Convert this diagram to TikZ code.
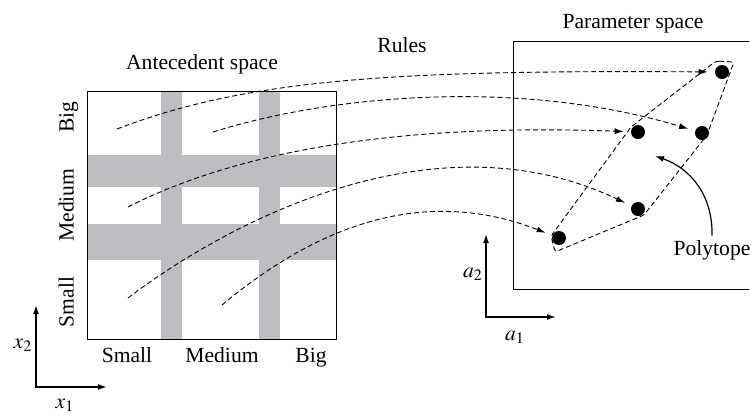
\documentclass[tikz,border=0pt]{standalone}
\usepackage{mathptmx}
\usepackage{fontspec}
\setmainfont{Liberation Serif}
\usetikzlibrary{arrows.meta}

\definecolor{bargray}{RGB}{189,190,193}

\begin{document}
\begin{tikzpicture}[x=0.5pt, y=-0.5pt, >={Latex[length=4.5pt,width=3pt]},
  lbl/.style={font=\fontsize{10.8}{13}\selectfont, inner sep=0pt, anchor=base},
  dot/.style={circle, fill=black, minimum size=7pt, inner sep=0pt},
  rule/.style={->, line width=0.45pt, dash pattern=on 2.5pt off 1.5pt, shorten >=3.5pt},
  axis/.style={<->, line width=0.75pt}]
  \useasboundingbox (0,0) rectangle (751,414);

  % 1. Antecedent space: partition bars and frame
  \fill[bargray] (161,91) rectangle (182,339);
  \fill[bargray] (259,91) rectangle (280,339);
  \fill[bargray] (87,155) rectangle (336,187);
  \fill[bargray] (87,224) rectangle (336,260);
  \draw[line width=0.5pt] (87,91) rectangle (336,339);

  \node[lbl] (ante) at (202,69) {Antecedent space};
  \node[lbl] (xsmall) at (127,362) {Small};
  \node[lbl] (xmedium) at (222,362) {Medium};
  \node[lbl] (xbig) at (311,362) {Big};
  \node[lbl, rotate=90] (ybig) at (73.5,117) {Big};
  \node[lbl, rotate=90] (ymedium) at (73.5,205) {Medium};
  \node[lbl, rotate=90] (ysmall) at (73.5,302) {Small};

  % x axes
  \coordinate (xo) at (36,387);
  \coordinate (xone) at (107,387);
  \coordinate (xtwo) at (36,305);
  \draw[axis] (xtwo) -- (xo) -- (xone);
  \node[lbl] (xtwolbl) at (23,348) {$x_2$};
  \node[lbl] (xonelbl) at (65,408) {$x_1$};

  % 2. Parameter space (right side runs off the picture)
  \begin{scope}
    \clip (500,0) rectangle (749,414);
    \draw[line width=0.5pt] (790,41) -- (513,41) -- (513,289) -- (790,289);
  \end{scope}
  \node[lbl] (param) at (633,28) {Parameter space};

  % polytope outline
  \draw[line width=0.45pt, dash pattern=on 2.5pt off 1.5pt, rounded corners=1.5pt]
    (716,61) -- (734,62) -- (707,135) -- (644,215) -- (555,252) -- (551,236) -- (631,127) -- cycle;

  \node[dot] (p1) at (722,72) {};
  \node[dot] (p2) at (638,132) {};
  \node[dot] (p3) at (702,133) {};
  \node[dot] (p4) at (638,209) {};
  \node[dot] (p5) at (559,238) {};

  % a axes
  \coordinate (ao) at (486,317);
  \coordinate (aone) at (556,317);
  \coordinate (atwo) at (486,234);
  \draw[axis] (atwo) -- (ao) -- (aone);
  \node[lbl] (atwolbl) at (473,277) {$a_2$};
  \node[lbl] (aonelbl) at (515,340) {$a_1$};

  % 3. Rules
  \node[lbl] (rules) at (402,52) {Rules};
  \coordinate (s1) at (117,129);
  \coordinate (s2) at (213,132);
  \coordinate (s3) at (128,207);
  \coordinate (s4) at (128,298);
  \coordinate (s5) at (222,305);
  \draw[rule] (s1) .. controls (250,78) and (400,70) .. (p1);
  \draw[rule] (s2) .. controls (330,95) and (520,78) .. (p3);
  \draw[rule] (s3) .. controls (250,145) and (420,124) .. (p2);
  \draw[rule] (s4) .. controls (220,228) and (430,110) .. (p4);
  \draw[rule] (s5) .. controls (300,240) and (410,180) .. (p5);

  % 4. Polytope pointer
  \node[lbl] (polylbl) at (712,255) {Polytope};
  \coordinate (polytip) at (655,156);
  \draw[->, line width=0.6pt] ([yshift=2pt]polylbl.north) .. controls (713,195) and (690,168) .. (polytip);
\end{tikzpicture}
\end{document}
